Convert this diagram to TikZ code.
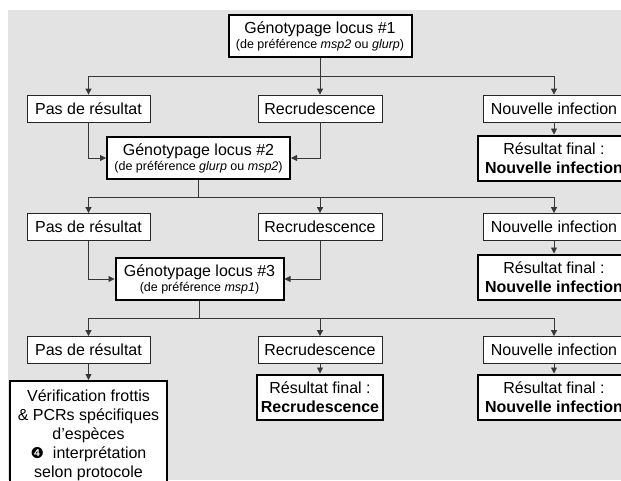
\documentclass[tikz,border=0pt]{standalone}
\usepackage{fontspec}
\setmainfont{Liberation Sans}
\newfontfamily\dingfont{DejaVu Sans}
\usetikzlibrary{arrows.meta, positioning}
\definecolor{panelgray}{RGB}{227, 227, 227}
\definecolor{linegray}{RGB}{55, 55, 55}
\tikzset{
  outcome/.style={draw=black!85, fill=white, line width=0.8pt, inner sep=0pt, minimum height=27pt, font=\fontsize{16}{19}\selectfont},
  genotyping/.style={draw=black, fill=white, line width=2pt, inner sep=0pt, minimum height=42pt, align=center, font=\fontsize{16}{19}\selectfont},
  verdict/.style={genotyping, minimum height=45pt, minimum width=153pt},
  flow/.style={draw=linegray, line width=0.8pt, -{Triangle[length=6pt, width=6pt]}},
  bus/.style={draw=linegray, line width=0.8pt}
}
\newcommand{\prefnote}[1]{{\fontsize{12.5}{15}\selectfont #1}}

\begin{document}
\begin{tikzpicture}[x=1pt, y=-1pt]
  \useasboundingbox (0,0) rectangle (621,480);
  \clip (0,0) rectangle (621,480);
  \fill[panelgray] (8,10) rectangle (621,480);

  % round 1
  \node[genotyping, minimum width=183pt] (loc1) at (320,36) {Génotypage locus \#1\\[-4pt]\prefnote{(de préférence \textit{msp2} ou \textit{glurp})}};
  \node[outcome, minimum width=123pt] (pas1) at (88.5,108.5) {Pas de résultat};
  \node[outcome, minimum width=124pt] (rec1) at (320,108.5) {Recrudescence};
  \node[outcome, minimum width=142pt] (nouv1) at (554,108.5) {Nouvelle infection};
  \node[verdict] (fin1) at (554,158) {Résultat final :\\\textbf{Nouvelle infection}};
  \coordinate (b1) at (320,76);
  \draw[flow] (loc1.south) -- (rec1.north);
  \draw[flow] (b1) -| (pas1.north);
  \draw[flow] (b1) -| (nouv1.north);
  \draw[flow] (nouv1) -- (fin1);

  % round 2
  \node[genotyping, minimum width=183pt] (loc2) at (198.5,158) {Génotypage locus \#2\\[-4pt]\prefnote{(de préférence \textit{glurp} ou \textit{msp2})}};
  \draw[flow] (pas1.south) |- (loc2.west);
  \draw[flow] (rec1.south) |- (loc2.east);
  \node[outcome, minimum width=123pt] (pas2) at (88.5,227) {Pas de résultat};
  \node[outcome, minimum width=124pt] (rec2) at (320,227) {Recrudescence};
  \node[outcome, minimum width=142pt] (nouv2) at (554,227) {Nouvelle infection};
  \node[verdict] (fin2) at (554,277) {Résultat final :\\\textbf{Nouvelle infection}};
  \coordinate (b2) at (198.5,197);
  \draw[bus] (loc2.south) -- (b2);
  \draw[flow] (b2) -| (pas2.north);
  \draw[flow] (b2) -| (rec2.north);
  \draw[flow] (b2) -| (nouv2.north);
  \draw[flow] (nouv2) -- (fin2);

  % round 3
  \node[genotyping, minimum width=168pt] (loc3) at (199.5,279) {Génotypage locus \#3\\[-4pt]\prefnote{(de préférence \textit{msp1})}};
  \draw[flow] (pas2.south) |- (loc3.west);
  \draw[flow] (rec2.south) |- (loc3.east);
  \node[outcome, minimum width=123pt] (pas3) at (88.5,350) {Pas de résultat};
  \node[outcome, minimum width=124pt] (rec3) at (320,350) {Recrudescence};
  \node[outcome, minimum width=142pt] (nouv3) at (554,350) {Nouvelle infection};
  \node[verdict, minimum width=126pt] (fin3) at (320,397) {Résultat final :\\\textbf{Recrudescence}};
  \node[verdict] (fin4) at (554,397) {Résultat final :\\\textbf{Nouvelle infection}};
  \node[genotyping, anchor=north, minimum width=157pt, minimum height=108pt, font=\fontsize{16}{19}\selectfont] (verif) at (88.5,380)
    {Vérification frottis\\\& PCRs spécifiques\\d’espèces\\{\dingfont\fontsize{15}{19}\selectfont ❹}\ \ interprétation\\selon protocole};
  \coordinate (b3) at (199.5,318);
  \draw[bus] (loc3.south) -- (b3);
  \draw[flow] (b3) -| (pas3.north);
  \draw[flow] (b3) -| (rec3.north);
  \draw[flow] (b3) -| (nouv3.north);
  \draw[flow] (pas3) -- (verif);
  \draw[flow] (rec3) -- (fin3);
  \draw[flow] (nouv3) -- (fin4);
\end{tikzpicture}
\end{document}
